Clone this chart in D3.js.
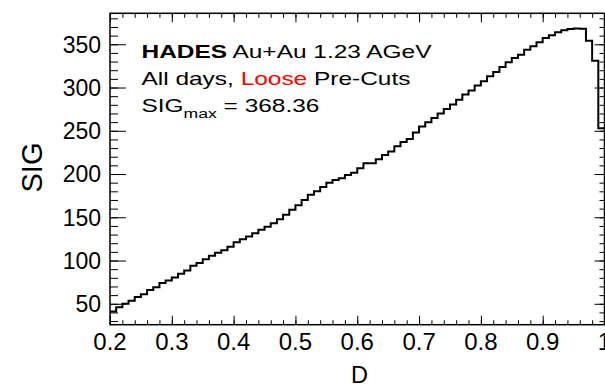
<!DOCTYPE html>
<html>
<head>
<meta charset="utf-8">
<script src="https://cdn.jsdelivr.net/npm/d3@7/dist/d3.min.js"></script>
<style>
  body { margin: 0; background: #fff; }
  svg { display: block; }
  text { font-family: "Liberation Sans", Arial, Helvetica, sans-serif; fill: #000; }
</style>
</head>
<body>
<script>
// Lower edge of each D bin (width 0.01)
const binLow = [
  0.20, 0.21, 0.22, 0.23, 0.24, 0.25, 0.26, 0.27, 0.28, 0.29,
  0.30, 0.31, 0.32, 0.33, 0.34, 0.35, 0.36, 0.37, 0.38, 0.39,
  0.40, 0.41, 0.42, 0.43, 0.44, 0.45, 0.46, 0.47, 0.48, 0.49,
  0.50, 0.51, 0.52, 0.53, 0.54, 0.55, 0.56, 0.57, 0.58, 0.59,
  0.60, 0.61, 0.62, 0.63, 0.64, 0.65, 0.66, 0.67, 0.68, 0.69,
  0.70, 0.71, 0.72, 0.73, 0.74, 0.75, 0.76, 0.77, 0.78, 0.79,
  0.80, 0.81, 0.82, 0.83, 0.84, 0.85, 0.86, 0.87, 0.88, 0.89,
  0.90, 0.91, 0.92, 0.93, 0.94, 0.95, 0.96, 0.97, 0.98, 0.99
];
const binWidth = 0.01;

// Significance per bin
const sig = [
  41.0, 46.0, 50.0, 53.5, 57.7, 61.0, 66.0, 69.0, 74.0, 77.0,
  80.4, 84.7, 88.5, 94.0, 97.0, 101.6, 105.5, 109.0, 112.0, 116.0,
  121.0, 124.7, 127.7, 131.6, 135.5, 139.0, 143.0, 147.8, 152.8, 158.6,
  164.0, 170.0, 176.0, 180.0, 185.0, 190.0, 193.0, 195.0, 199.0, 201.6,
  206.7, 212.5, 212.5, 217.0, 222.0, 226.0, 232.0, 237.0, 240.6, 248.0,
  255.0, 259.8, 264.9, 269.9, 275.3, 280.3, 286.0, 291.8, 296.5, 302.3,
  307.2, 313.0, 318.0, 323.8, 329.1, 334.2, 338.0, 343.8, 347.6, 352.2,
  357.3, 360.3, 363.8, 366.2, 367.6, 368.36, 367.8, 354.0, 331.0, 253.0
];

const xTickValues = [0.2, 0.3, 0.4, 0.5, 0.6, 0.7, 0.8, 0.9, 1.0];
const xTickLabels = ["0.2", "0.3", "0.4", "0.5", "0.6", "0.7", "0.8", "0.9", "1"];
const yTickValues = [50, 100, 150, 200, 250, 300, 350];
const yTickLabels = ["50", "100", "150", "200", "250", "300", "350"];

const W = 605, H = 388;
const frame = { left: 110, right: 604.5, top: 13.3, bottom: 324.7 };

const svg = d3.select("body").append("svg")
  .attr("width", W).attr("height", H);

const x = d3.scaleLinear().domain([0.2, 1.0]).range([frame.left, frame.right]);
const y = d3.scaleLinear().domain([25.8, 385.8]).range([frame.bottom, frame.top]);

// Histogram outline as a step line
const pts = binLow.map((d, i) => [d, sig[i]]);
pts.push([binLow[binLow.length - 1] + binWidth, sig[sig.length - 1]]);
const stepLine = d3.line()
  .x(d => x(d[0])).y(d => y(d[1]))
  .curve(d3.curveStepAfter);

svg.append("clipPath").attr("id", "plotClip")
  .append("rect")
  .attr("x", frame.left).attr("y", frame.top)
  .attr("width", frame.right - frame.left).attr("height", frame.bottom - frame.top);

svg.append("path")
  .attr("d", stepLine(pts))
  .attr("fill", "none")
  .attr("stroke", "#000")
  .attr("stroke-width", 2)
  .attr("clip-path", "url(#plotClip)");

// Axes: ticks point into the frame on all four sides
const xMinor = d3.range(0, 41).map(i => 0.2 + i * 0.02).filter(v => v <= 1.0001);
const yMinor = d3.range(30, 386, 10);

function tickAxis(axisFn, scale, values, size) {
  return axisFn(scale).tickValues(values).tickSize(size).tickFormat("");
}

const gx = svg.append("g").attr("transform", `translate(0,${frame.bottom})`);
gx.call(tickAxis(d3.axisTop, x, xMinor, 4.5));
gx.call(g => g.append("g").call(tickAxis(d3.axisTop, x, xTickValues, 9)));

const gxt = svg.append("g").attr("transform", `translate(0,${frame.top})`);
gxt.call(tickAxis(d3.axisBottom, x, xMinor, 4.5));
gxt.call(g => g.append("g").call(tickAxis(d3.axisBottom, x, xTickValues, 9)));

const gy = svg.append("g").attr("transform", `translate(${frame.left},0)`);
gy.call(tickAxis(d3.axisRight, y, yMinor, 8));
gy.call(g => g.append("g").call(tickAxis(d3.axisRight, y, yTickValues, 16)));

const gyr = svg.append("g").attr("transform", `translate(${frame.right},0)`);
gyr.call(tickAxis(d3.axisLeft, y, yMinor, 5));
gyr.call(g => g.append("g").call(tickAxis(d3.axisLeft, y, yTickValues, 10)));

svg.selectAll(".domain").remove();
svg.selectAll(".tick line").attr("stroke", "#000").attr("stroke-width", 1);

// Frame
svg.append("rect")
  .attr("x", frame.left).attr("y", frame.top)
  .attr("width", frame.right - frame.left).attr("height", frame.bottom - frame.top)
  .attr("fill", "none").attr("stroke", "#000").attr("stroke-width", 1.5);

// Tick labels
svg.append("g").selectAll("text").data(xTickValues).join("text")
  .attr("x", d => x(d)).attr("y", 350)
  .attr("text-anchor", "middle")
  .attr("font-size", 24)
  .text((d, i) => xTickLabels[i]);

svg.append("g").selectAll("text").data(yTickValues).join("text")
  .attr("x", 101).attr("y", d => y(d) + 8.3)
  .attr("text-anchor", "end")
  .attr("font-size", 23)
  .text((d, i) => yTickLabels[i]);

// Axis titles
svg.append("text")
  .attr("x", 359.5).attr("y", 383)
  .attr("text-anchor", "middle")
  .attr("font-size", 23.5)
  .text("D");

svg.append("text")
  .attr("transform", "translate(41.5,167.5) rotate(-90)")
  .attr("text-anchor", "middle")
  .attr("font-size", 29)
  .text("SIG");

// Caption block
const cap = svg.append("g").attr("transform", "translate(141.5,0) scale(1.3,1)");
const fs = 18.8;
const l1 = cap.append("text").attr("x", 0).attr("y", 58.3).attr("font-size", fs);
l1.append("tspan").attr("font-weight", "bold").text("HADES");
l1.append("tspan").text(" Au+Au 1.23 AGeV");

const l2 = cap.append("text").attr("x", 0).attr("y", 85).attr("font-size", fs);
l2.append("tspan").text("All days, ");
l2.append("tspan").style("fill", "#ff0000").text("Loose");
l2.append("tspan").text(" Pre-Cuts");

const l3 = cap.append("text").attr("x", 0).attr("y", 111.7).attr("font-size", fs);
l3.append("tspan").text("SIG");
l3.append("tspan").attr("font-size", fs * 0.72).attr("dy", 6.5).text("max");
l3.append("tspan").attr("dy", -6.5).text(" = 368.36");
</script>
</body>
</html>
